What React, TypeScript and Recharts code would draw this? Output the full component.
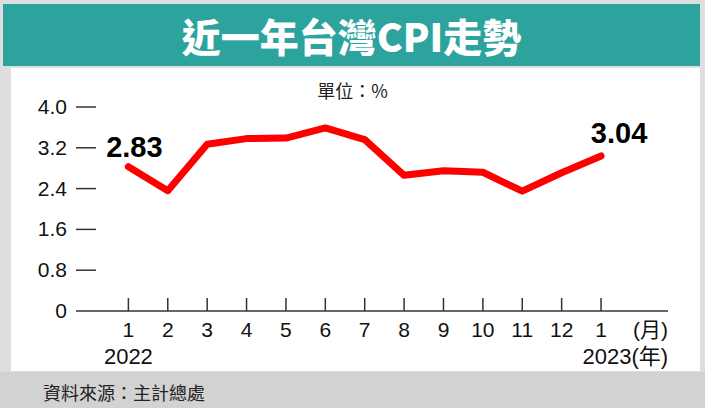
import { LineChart, Line, XAxis, YAxis } from "recharts";

const months = ["1", "2", "3", "4", "5", "6", "7", "8", "9", "10", "11", "12", "1"];
const cpi = [2.83, 2.36, 3.27, 3.38, 3.39, 3.59, 3.36, 2.66, 2.75, 2.72, 2.35, 2.71, 3.04];
const yTicks = [0, 0.8, 1.6, 2.4, 3.2, 4.0];
const startYear = "2022";
const endYear = "2023";

const data = cpi.map((v, i) => ({ i, month: months[i], cpi: v }));

const LATIN = '"Liberation Sans", Arial, sans-serif';
const CJK = '"Liberation Sans", "Noto Sans CJK TC", sans-serif';

function XTick(props: any) {
  const { x, y, payload } = props;
  const idx = payload.value as number;
  const last = idx === months.length - 1;
  return (
    <g>
      <line x1={x} x2={x} y1={y - 13} y2={y} stroke="#333" strokeWidth={1.5} />
      <text x={x} y={y + 26} textAnchor="middle" fontSize={21} fill="#111" fontFamily={LATIN}>
        {months[idx]}
      </text>
      {idx === 0 && (
        <text x={x} y={y + 53} textAnchor="middle" fontSize={22} fill="#111" fontFamily={LATIN}>
          {startYear}
        </text>
      )}
      {last && (
        <>
          <text x={x + 67} y={y + 26} textAnchor="end" fontSize={21} fill="#111" fontFamily={CJK}>
            (月)
          </text>
          <text x={x + 67} y={y + 53} textAnchor="end" fontSize={22} fill="#111" fontFamily={CJK}>
            {endYear}(年)
          </text>
        </>
      )}
    </g>
  );
}

function YTick(props: any) {
  const { x, y, payload } = props;
  const v = payload.value as number;
  return (
    <g>
      <text x={x - 9} y={y + 7} textAnchor="end" fontSize={21} fill="#111" fontFamily={LATIN}>
        {v === 0 ? "0" : v.toFixed(1)}
      </text>
      {v !== 0 && <line x1={x} x2={x + 20} y1={y} y2={y} stroke="#333" strokeWidth={1.5} />}
    </g>
  );
}

function EndLabel(props: any) {
  const { x, y, index, value } = props;
  if (index === 0) {
    return (
      <text x={x + 6} y={y - 10} textAnchor="middle" fontSize={29} fontWeight="bold" fill="#000" fontFamily={LATIN}>
        {value.toFixed(2)}
      </text>
    );
  }
  if (index === cpi.length - 1) {
    return (
      <text x={x + 18} y={y - 13} textAnchor="middle" fontSize={29} fontWeight="bold" fill="#000" fontFamily={LATIN}>
        {value.toFixed(2)}
      </text>
    );
  }
  return null;
}

export default function App() {
  return (
    <div style={{ position: "absolute", left: 0, top: 0, width: 705, height: 408, background: "#dedede", overflow: "hidden" }}>
      <div style={{ position: "absolute", left: 3, top: 4, width: 697, height: 62, background: "#2ca39d", color: "#fff", display: "flex", alignItems: "center", justifyContent: "center", fontFamily: '"Noto Sans CJK TC", sans-serif', fontWeight: 900, fontSize: 39 }}>
        近一年台灣CPI走勢
      </div>
      <div style={{ position: "absolute", left: 11, top: 68, width: 689, height: 303, background: "#fff" }} />
      <div style={{ position: "absolute", left: 0, top: 372, width: 705, height: 36, background: "#d2d2d2" }} />
      <div style={{ position: "absolute", left: 43, top: 380, fontFamily: '"Noto Sans CJK TC", sans-serif', fontSize: 18, color: "#222", lineHeight: "24px" }}>
        資料來源：主計總處
      </div>
      <div style={{ position: "absolute", left: 0, top: 77, width: 705, textAlign: "center", fontFamily: '"Noto Sans CJK TC", sans-serif', fontSize: 18, color: "#222" }}>
        單位：%
      </div>
      <div style={{ position: "absolute", left: 0, top: 0 }}>
        <LineChart width={705} height={408} data={data} margin={{ top: 107, right: 37, bottom: 37, left: 0 }}>
          <XAxis
            dataKey="i"
            type="number"
            domain={[-1.33, 13.7]}
            ticks={data.map((d) => d.i)}
            allowDataOverflow
            height={60}
            tickSize={0}
            tickMargin={0}
            tickLine={false}
            axisLine={{ stroke: "#333", strokeWidth: 1.5 }}
            tick={<XTick />}
            interval={0}
          />
          <YAxis
            domain={[0, 4]}
            ticks={yTicks}
            width={76}
            tickSize={0}
            tickMargin={0}
            tickLine={false}
            axisLine={false}
            tick={<YTick />}
            interval={0}
          />
          <Line
            dataKey="cpi"
            stroke="#ff0000"
            strokeWidth={7}
            strokeLinecap="round"
            strokeLinejoin="round"
            dot={false}
            isAnimationActive={false}
            label={<EndLabel />}
          />
        </LineChart>
      </div>
    </div>
  );
}
